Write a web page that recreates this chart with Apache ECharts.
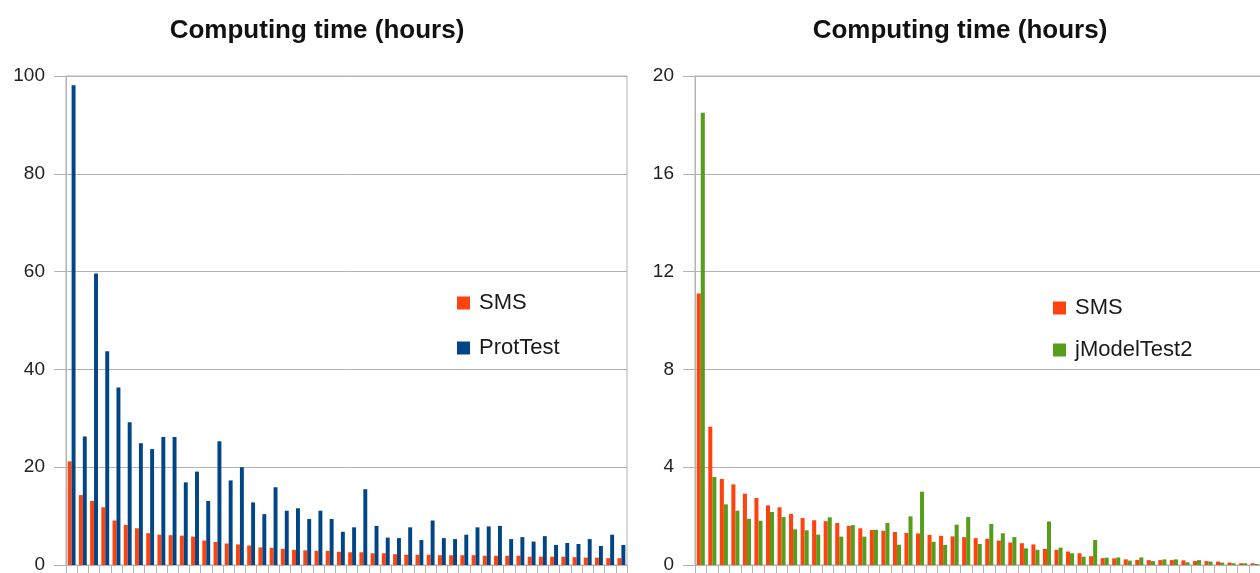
<!DOCTYPE html>
<html>
<head>
<meta charset="utf-8">
<script src="https://cdn.jsdelivr.net/npm/echarts@6/dist/echarts.min.js"></script>
<style>
  html, body { margin: 0; padding: 0; background: #fff; }
  #chart { width: 1260px; height: 573px; }
</style>
</head>
<body>
<div id="chart"></div>
<script>
// 50 alignments, sorted by SMS time
const categories = ['1','2','3','4','5','6','7','8','9','10','11','12','13','14','15','16','17','18','19','20',
  '21','22','23','24','25','26','27','28','29','30','31','32','33','34','35','36','37','38','39','40',
  '41','42','43','44','45','46','47','48','49','50'];

// left panel: SMS vs ProtTest (hours)
const smsLeft = [21.2, 14.3, 13.1, 11.8, 9.1, 8.2, 7.5, 6.5, 6.2, 6.1, 6.0, 5.8, 5.0, 4.7, 4.4, 4.2, 4.0, 3.6, 3.5, 3.3,
  3.1, 3.0, 2.9, 2.9, 2.7, 2.6, 2.6, 2.4, 2.4, 2.2, 2.1, 2.1, 2.1, 2.0, 2.0, 2.0, 2.0, 1.9, 1.9, 1.9,
  1.9, 1.7, 1.7, 1.7, 1.7, 1.6, 1.5, 1.5, 1.4, 1.4];
const protTest = [98.1, 26.3, 59.6, 43.7, 36.3, 29.2, 24.9, 23.7, 26.2, 26.2, 16.9, 19.1, 13.1, 25.3, 17.3, 20.0, 12.8, 10.4, 15.9, 11.1,
  11.6, 9.4, 11.1, 9.4, 6.8, 7.7, 15.5, 8.0, 5.6, 5.5, 7.7, 5.1, 9.1, 5.5, 5.3, 6.2, 7.7, 7.9, 8.0, 5.3,
  5.7, 4.8, 5.9, 4.1, 4.5, 4.3, 5.3, 3.9, 6.2, 4.1];

// right panel: SMS vs jModelTest2 (hours)
const smsRight = [11.1, 5.65, 3.52, 3.3, 2.92, 2.74, 2.44, 2.36, 2.09, 1.92, 1.83, 1.79, 1.72, 1.6, 1.5, 1.43, 1.4, 1.35, 1.31, 1.29,
  1.23, 1.19, 1.17, 1.14, 1.1, 1.07, 1.0, 0.92, 0.89, 0.84, 0.66, 0.62, 0.55, 0.48, 0.36, 0.28, 0.27, 0.23, 0.21, 0.2,
  0.2, 0.2, 0.19, 0.16, 0.16, 0.14, 0.1, 0.07, 0.07, 0.05];
const jModelTest2 = [18.5, 3.6, 2.48, 2.22, 1.89, 1.81, 2.17, 1.96, 1.46, 1.42, 1.24, 1.95, 1.16, 1.63, 1.16, 1.44, 1.72, 0.83, 1.99, 3.0,
  0.95, 0.82, 1.65, 1.96, 0.86, 1.68, 1.3, 1.14, 0.68, 0.62, 1.78, 0.71, 0.48, 0.34, 1.02, 0.3, 0.31, 0.18, 0.31, 0.16,
  0.23, 0.23, 0.11, 0.2, 0.14, 0.1, 0.07, 0.07, 0.04, 0.03];

const leftTicks = { min: 0, max: 100, interval: 20 };
const rightTicks = { min: 0, max: 20, interval: 4 };

const FONT = '"Liberation Sans", Arial, sans-serif';
const GRAY = '#b3b3b3';
const RED = '#ff420e';
const BLUE = '#004586';
const GREEN = '#579d1c';

const chart = echarts.init(document.getElementById('chart'));

const xAxisBase = (gridIndex) => ({
  type: 'category',
  gridIndex: gridIndex,
  data: categories,
  boundaryGap: true,
  axisLine: { show: true, lineStyle: { color: GRAY, width: 1 } },
  axisTick: { show: true, interval: 0, length: 8, lineStyle: { color: GRAY } },
  axisLabel: { show: false },
  splitLine: { show: false }
});

const yAxisBase = (gridIndex, ticks) => ({
  type: 'value',
  gridIndex: gridIndex,
  min: ticks.min,
  max: ticks.max,
  interval: ticks.interval,
  axisLine: { show: true, lineStyle: { color: GRAY, width: 1 } },
  axisTick: { show: true, length: 12, lineStyle: { color: GRAY } },
  axisLabel: { margin: 21, fontSize: 19, color: '#222', fontFamily: FONT },
  splitLine: { show: true, lineStyle: { color: GRAY, width: 1 } }
});

const legendBase = {
  orient: 'vertical',
  icon: 'rect',
  itemWidth: 13,
  itemHeight: 13,
  itemGap: 23,
  padding: 0,
  textStyle: { fontSize: 22, lineHeight: 22, color: '#1a1a1a', fontFamily: FONT, padding: [0, 0, 0, 4] }
};

chart.setOption({
  animation: false,
  backgroundColor: '#fff',
  title: [
    {
      text: 'Computing time (hours)', left: 317, top: 18, textAlign: 'center', padding: 0,
      textStyle: { fontSize: 26, fontWeight: 'bold', color: '#111', fontFamily: FONT }
    },
    {
      text: 'Computing time (hours)', left: 960, top: 18, textAlign: 'center', padding: 0,
      textStyle: { fontSize: 26, fontWeight: 'bold', color: '#111', fontFamily: FONT }
    }
  ],
  legend: [
    Object.assign({}, legendBase, { data: ['SMS', 'ProtTest'], left: 457, top: 292 }),
    Object.assign({}, legendBase, { data: ['SMS ', 'jModelTest2'], left: 1053, top: 297, itemGap: 20,
      formatter: (name) => name.trim() })
  ],
  // the right panel runs past the picture's edge, as in the original screenshot
  grid: [
    { left: 66, top: 76, width: 561, height: 489, show: true, borderColor: GRAY, borderWidth: 1,
      outerBoundsMode: 'none' },
    { left: 695, top: 76, width: 577, height: 489, show: true, borderColor: GRAY, borderWidth: 1,
      outerBoundsMode: 'none' }
  ],
  xAxis: [xAxisBase(0), xAxisBase(1)],
  yAxis: [yAxisBase(0, leftTicks), yAxisBase(1, rightTicks)],
  series: [
    { name: 'SMS', type: 'bar', xAxisIndex: 0, yAxisIndex: 0, data: smsLeft,
      itemStyle: { color: RED }, barGap: '0%', barCategoryGap: '30%' },
    { name: 'ProtTest', type: 'bar', xAxisIndex: 0, yAxisIndex: 0, data: protTest,
      itemStyle: { color: BLUE }, barGap: '0%', barCategoryGap: '30%' },
    { name: 'SMS ', type: 'bar', xAxisIndex: 1, yAxisIndex: 1, data: smsRight,
      itemStyle: { color: RED }, barGap: '0%', barCategoryGap: '30%' },
    { name: 'jModelTest2', type: 'bar', xAxisIndex: 1, yAxisIndex: 1, data: jModelTest2,
      itemStyle: { color: GREEN }, barGap: '0%', barCategoryGap: '30%' }
  ]
});
</script>
</body>
</html>
